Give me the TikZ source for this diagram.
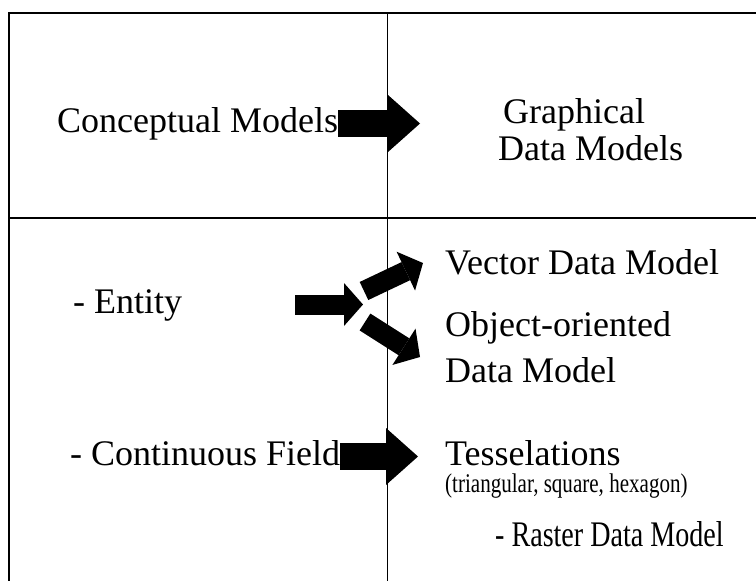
\documentclass[tikz,border=0pt]{standalone}
\usepackage{fontspec}
\setmainfont{Liberation Serif}
\newfontfamily\narrowserif{Liberation Serif}[FakeStretch=0.78]
\usetikzlibrary{arrows.meta}
\usetikzlibrary{positioning}

\tikzset{
	txt/.style={inner sep=0pt, anchor=base west, font=\fontsize{36}{37}\selectfont},
	oneline/.style={txt, text height=25pt, text depth=8pt},
	bigarrow/.style={line width=27pt, -{Triangle[length=32pt,width=57pt,line width=0pt]}},
	fatarrow/.style={line width=20pt, -{Triangle[length=19pt,width=43pt,line width=0pt]}},
	rule/.style={line width=2pt}
}

\begin{document}
\begin{tikzpicture}[x=1pt,y=-1pt]
		\useasboundingbox (0,0) rectangle (756,581);
		\draw[rule] (8.5,13) -- (756,13);
		\draw[rule] (8.5,218) -- (756,218);
		\draw[line width=1.7pt] (9.3,12) -- (9.3,581);
		\draw[line width=1pt] (387,12) -- (387,581);
		\path
		(57,132) node[oneline](concept) {Conceptual Models}
		(498,160) node[txt, align=left](graph) {\hspace*{5pt}Graphical\\Data Models}
		(73,313) node[oneline](entity) {- Entity}
		(445,274) node[oneline](vector) {Vector Data Model}
		(445,382) node[txt, align=left, font=\fontsize{36}{46}\selectfont](object) {Object-oriented\\Data Model}
		(70,465) node[oneline](field) {- Continuous Field}
		(445,465) node[txt](tess) {Tesselations}
		(445,492) node[txt, font=\narrowserif\fontsize{27}{30}\selectfont](tri) {(triangular, square, hexagon)}
		(495,546) node[txt, font=\narrowserif\fontsize{36}{40}\selectfont](raster) {- Raster Data Model};
		\path
		(364,291) coordinate (vtail)
		(423,263) coordinate (vtip)
		(365,322) coordinate (otail)
		(420,357) coordinate (otip);
		\draw[bigarrow, shorten >=78pt] (concept.east) -- (concept.east -| graph.west);
		\draw[bigarrow, shorten >=27pt] (field.east) -- (field.east -| tess.west);
		\draw[fatarrow, shorten <=113pt, shorten >=82pt] (entity.east) -- (entity.east -| vector.west);
		\draw[fatarrow] (vtail) -- (vtip);
		\draw[fatarrow] (otail) -- (otip);
	\end{tikzpicture}
\end{document}
